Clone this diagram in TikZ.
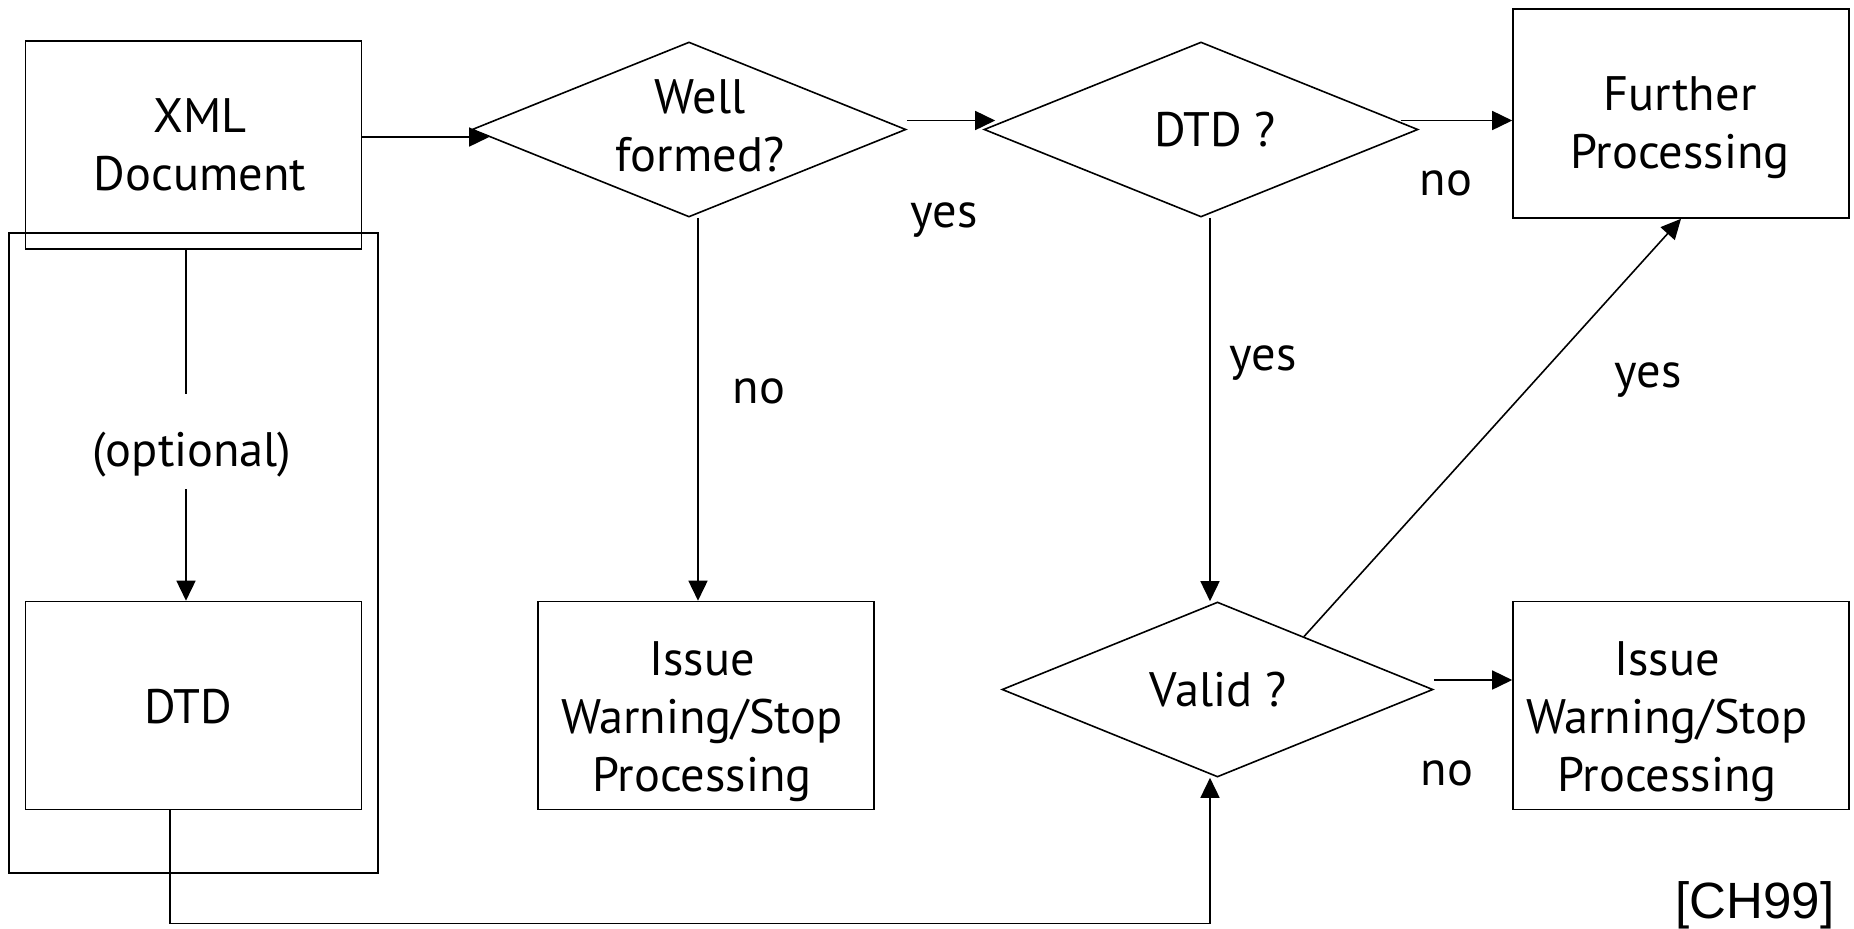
\documentclass[tikz,border=0pt]{standalone}
\usepackage{fontspec}
\setmainfont{PT Sans}
\newfontfamily\arialf{Liberation Sans}
\usetikzlibrary{shapes.geometric,arrows.meta,calc}
\begin{document}
\begin{tikzpicture}[x=0.5pt,y=-0.5pt,
  every node/.style={font=\fontsize{24.2}{29}\selectfont},
  box/.style={draw, line width=0.8pt, rectangle, minimum width=168pt, minimum height=104pt, inner sep=0pt},
  dia/.style={draw, line width=0.8pt, diamond, minimum width=217pt, minimum height=87.5pt, inner sep=0pt},
  txt/.style={align=center, inner sep=0pt},
  lbl/.style={anchor=base, inner sep=0pt},
  arr/.style={line width=0.8pt, -{Triangle[length=10pt,width=9.5pt]}},
  ln/.style={line width=0.8pt}]
\useasboundingbox (0,0) rectangle (1854,928);

% boxes
\node[box] (xml) at (193.5,145) {};
\node[box, minimum width=184.5pt, minimum height=320pt] (grp) at (193.5,553) {};
\node[box] (dtd) at (193.5,705.5) {};
\node[box] (issue1) at (706,705.5) {};
\node[box, minimum height=104.5pt] (further) at (1681,113.5) {};
\node[box] (issue2) at (1681,705.5) {};
\node[dia] (wf) at (689,129.5) {};
\node[dia] (dtdq) at (1201,129.5) {};
\node[dia, minimum width=215.5pt] (valid) at (1217.5,689.5) {};

% texts
\node[txt] (xmlt) at (200,145) {XML\\Document};
\node[txt] (wft) at (700,126) {Well\\formed?};
\node[txt] (dtdqt) at (1215,130) {DTD ?};
\node[txt] (furthert) at (1680,127.5) {Further\\Processing};
\node[txt] (issue1t) at (702,722) {Issue\ \\Warning/Stop\\Processing};
\node[txt] (issue2t) at (1667,722) {Issue\ \\Warning/Stop\\Processing};
\node[txt] (validt) at (1218,690) {Valid ?};
\node[txt] (dtdt) at (188,706.5) {DTD};
\node[txt] (opt) at (192,455) {(optional)};

% labels
\node[lbl] (l1) at (944,227) {yes};
\node[lbl] (l2) at (759,403) {no};
\node[lbl] (l3) at (1446,195) {no};
\node[lbl] (l4) at (1263,370) {yes};
\node[lbl] (l5) at (1648,387) {yes};
\node[lbl] (l6) at (1447,785) {no};
\node[lbl, font=\arialf\fontsize{25.5}{29}\selectfont] (cite) at (1755,918) {[CH99]};

% connectors
\coordinate (o1) at (186,394);
\coordinate (o2) at (186,489);
\draw[arr] ([yshift=4pt]xml.east) -- ([xshift=9pt,yshift=-3.75pt]wf.west);
\draw[arr] ([yshift=4.5pt]wf.east) -- ([xshift=6pt,yshift=4.5pt]dtdq.west);
\draw[arr] ([xshift=-9pt,yshift=4.5pt]dtdq.east) -- ([yshift=-3.5pt]further.west);
\draw[arr] ([xshift=4.5pt]wf.south) -- ([xshift=-4pt]issue1.north);
\draw[arr] ([xshift=4.5pt]dtdq.south) -- ([xshift=-3.75pt]valid.north);
\draw[arr] ($(valid.north)!0.4!(valid.east)$) -- (further.south);
\draw[arr] ([yshift=4.75pt]valid.east) -- ([yshift=12.75pt]issue2.west);
\draw[arr] ([xshift=-11.75pt]dtd.south) -- ++(0,-56.5pt) -| ([xshift=-3.75pt]valid.south);
\draw[ln] ([xshift=-3.75pt]xml.south) -- (o1);
\draw[arr] (o2) -- ([xshift=-3.75pt]dtd.north);
\end{tikzpicture}
\end{document}
